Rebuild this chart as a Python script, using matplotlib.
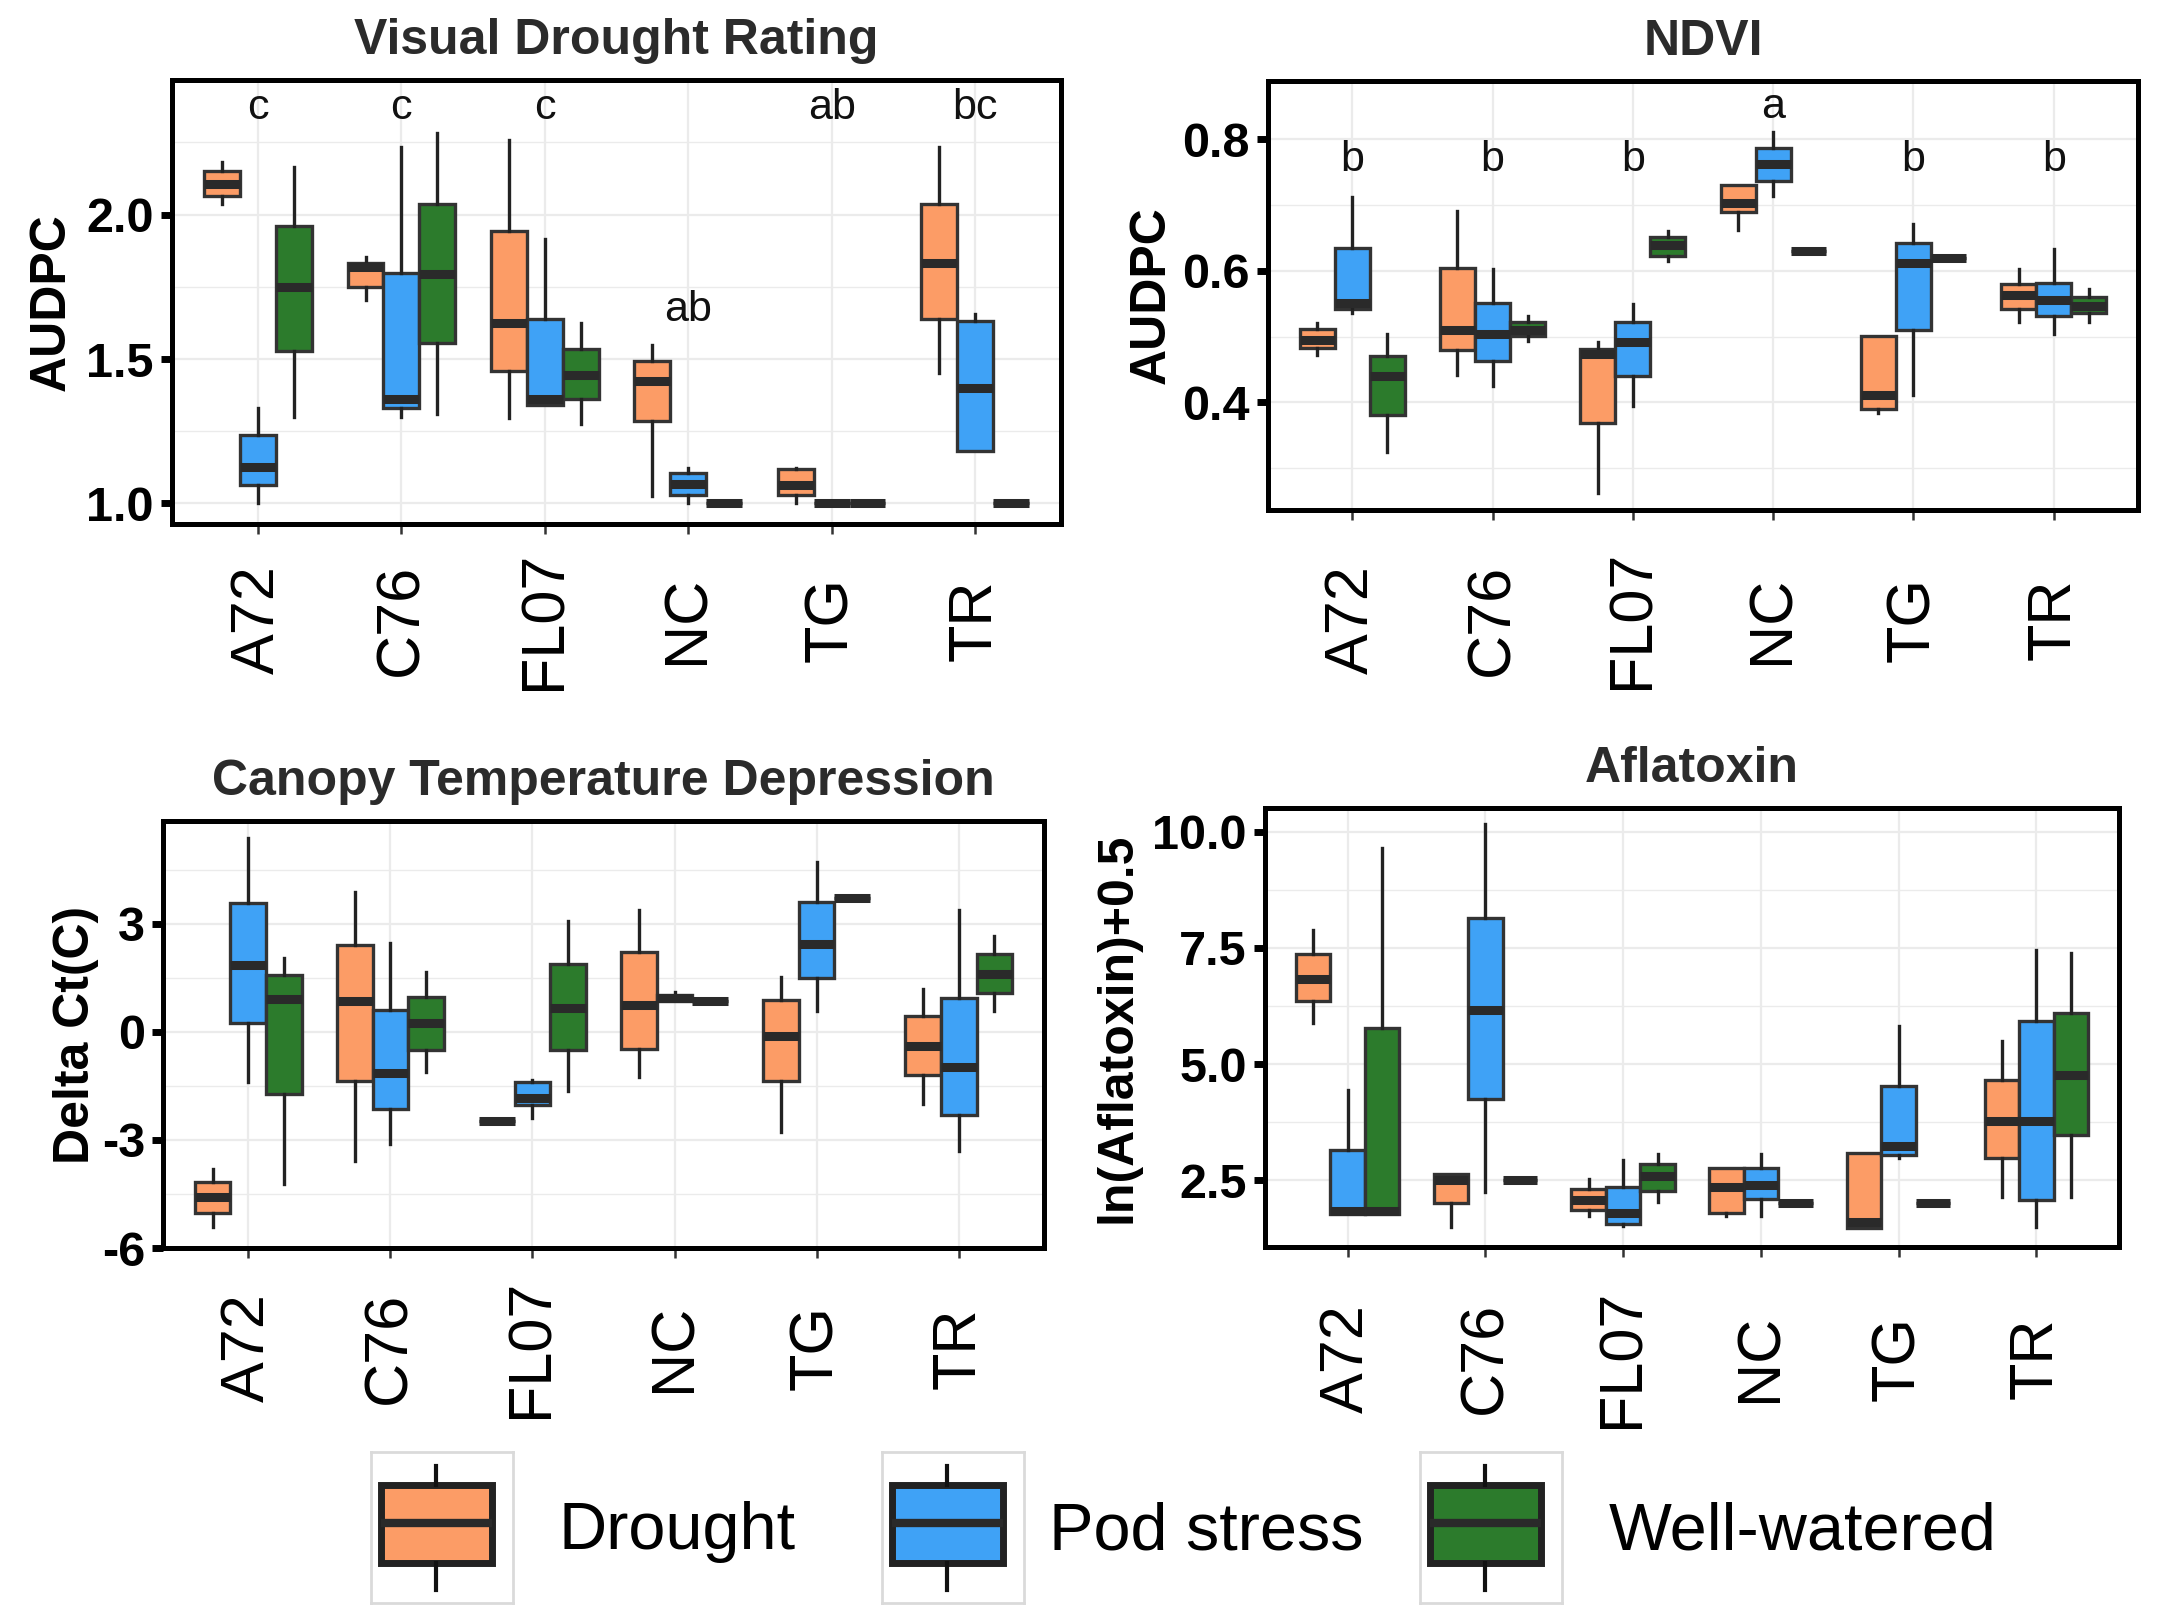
import numpy as np
import matplotlib
matplotlib.use('Agg')
import matplotlib.pyplot as plt

plt.rcParams['font.family'] = ['Liberation Sans', 'DejaVu Sans']

cultivars = ['A72', 'C76', 'FL07', 'NC', 'TG', 'TR']
treatments = ['Drought', 'Pod stress', 'Well-watered']
colours = ['#FC9C66', '#3FA2F6', '#2C7B2C']

# box stats per cultivar: (whislo, q1, med, q3, whishi)
vdr_drought = [(2.036, 2.065, 2.106, 2.152, 2.183), (1.705, 1.748, 1.818, 1.834, 1.854),
               (1.295, 1.457, 1.624, 1.943, 2.258), (1.026, 1.286, 1.425, 1.492, 1.547),
               (1.003, 1.03, 1.065, 1.12, 1.124), (1.45, 1.64, 1.834, 2.036, 2.233)]
vdr_pod = [(1.0, 1.065, 1.127, 1.236, 1.332), (1.30, 1.332, 1.36, 1.798, 2.233),
           (1.34, 1.34, 1.36, 1.637, 1.915), (1.003, 1.031, 1.068, 1.104, 1.123),
           (1.0, 1.0, 1.0, 1.0, 1.0), (1.18, 1.18, 1.40, 1.632, 1.655)]
vdr_ww = [(1.298, 1.528, 1.748, 1.96, 2.165), (1.31, 1.554, 1.795, 2.036, 2.284),
          (1.275, 1.36, 1.446, 1.534, 1.624), (1.0, 1.0, 1.0, 1.0, 1.0),
          (1.0, 1.0, 1.0, 1.0, 1.0), (1.0, 1.0, 1.0, 1.0, 1.0)]
vdr_letters = ['c', 'c', 'c', 'ab', 'ab', 'bc']
vdr_letter_y = [2.331, 2.331, 2.331, 1.632, 2.331, 2.331]

ndvi_drought = [(0.4716, 0.4831, 0.4947, 0.5118, 0.5206), (0.4422, 0.4797, 0.5104, 0.6037, 0.691),
                (0.2617, 0.3687, 0.4729, 0.481, 0.492), (0.6617, 0.6896, 0.7032, 0.73, 0.7305),
                (0.3843, 0.389, 0.4116, 0.5015, 0.5015), (0.522, 0.5424, 0.5629, 0.5806, 0.6024)]
ndvi_pod = [(0.5356, 0.5424, 0.5513, 0.6344, 0.7128), (0.4252, 0.4627, 0.5036, 0.5513, 0.6024),
            (0.3945, 0.4402, 0.492, 0.522, 0.55), (0.7135, 0.7373, 0.7625, 0.7877, 0.8116),
            (0.4116, 0.5104, 0.6126, 0.6419, 0.6719), (0.5036, 0.5308, 0.556, 0.582, 0.633)]
ndvi_ww = [(0.3243, 0.3809, 0.4402, 0.4709, 0.5036), (0.4933, 0.5015, 0.5104, 0.522, 0.5308),
           (0.6147, 0.6228, 0.6399, 0.6521, 0.6603), (0.63, 0.63, 0.63, 0.63, 0.63),
           (0.6194, 0.6194, 0.6194, 0.6194, 0.6194), (0.522, 0.5356, 0.5465, 0.5601, 0.5731)]
ndvi_letters = ['b', 'b', 'b', 'a', 'b', 'b']
ndvi_letter_y = [0.752, 0.752, 0.752, 0.833, 0.752, 0.752]

ctd_drought = [(-5.41, -5.04, -4.59, -4.17, -3.80), (-3.58, -1.37, 0.87, 2.41, 3.90),
               (-2.48, -2.48, -2.48, -2.48, -2.48), (-1.24, -0.47, 0.74, 2.23, 3.38),
               (-2.77, -1.37, -0.12, 0.89, 1.54), (-1.99, -1.19, -0.38, 0.43, 1.20)]
ctd_pod = [(-1.40, 0.25, 1.86, 3.59, 5.39), (-3.12, -2.15, -1.15, 0.62, 2.48),
           (-2.40, -2.02, -1.84, -1.40, -1.32), (0.87, 0.87, 0.93, 1.04, 1.10),
           (0.58, 1.49, 2.45, 3.60, 4.72), (-3.30, -2.31, -0.97, 0.93, 3.38)]
ctd_ww = [(-4.22, -1.71, 0.92, 1.58, 2.05), (-1.12, -0.50, 0.25, 0.96, 1.66),
          (-1.65, -0.50, 0.67, 1.89, 3.07), (0.87, 0.87, 0.87, 0.87, 0.87),
          (3.72, 3.72, 3.72, 3.72, 3.72), (0.58, 1.08, 1.61, 2.16, 2.66)]

afla_drought = [(5.88, 6.35, 6.84, 7.36, 7.88), (1.51, 2.01, 2.52, 2.64, 2.64),
                (1.73, 1.86, 2.08, 2.31, 2.54), (1.73, 1.80, 2.35, 2.76, 2.76),
                (1.48, 1.48, 1.60, 3.10, 3.10), (2.15, 2.98, 3.79, 4.66, 5.49)]
afla_pod = [(1.77, 1.77, 1.84, 3.15, 4.45), (2.25, 4.26, 6.17, 8.15, 10.16),
            (1.53, 1.57, 1.80, 2.35, 2.95), (1.73, 2.11, 2.40, 2.76, 3.08),
            (2.98, 3.05, 3.24, 4.53, 5.82), (1.51, 2.08, 3.79, 5.92, 7.46)]
afla_ww = [(1.77, 1.77, 1.84, 5.77, 9.66), (2.5, 2.5, 2.5, 2.5, 2.5),
           (2.04, 2.28, 2.60, 2.86, 3.08), (2.02, 2.02, 2.02, 2.02, 2.02),
           (2.02, 2.02, 2.02, 2.02, 2.02), (2.15, 3.47, 4.76, 6.11, 7.39)]

W, H = 2157, 1613
fig = plt.figure(figsize=(W / 100, H / 100), dpi=100)


def to_stats(data):
    return [dict(whislo=s[0], q1=s[1], med=s[2], q3=s[3], whishi=s[4], fliers=[]) for s in data]


def panel(rect_px, series, title, ylabel, ylim, yticks, ylabels, yminor, xpad, ylab_x,
          letters=None, letter_y=None):
    l, t, r, b = rect_px
    ax = fig.add_axes([l / W, 1 - b / H, (r - l) / W, (b - t) / H])
    for k, data in enumerate(series):
        pos = np.arange(len(cultivars)) + (k - 1) * 0.25
        ax.bxp(to_stats(data), positions=pos, widths=0.25, patch_artist=True,
               showcaps=False, showfliers=False, manage_ticks=False,
               boxprops=dict(facecolor=colours[k], edgecolor='#333333', linewidth=2.4),
               medianprops=dict(color='#2a2a2a', linewidth=6.5, solid_capstyle='butt'),
               whiskerprops=dict(color='#222222', linewidth=2.4))
    if letters is not None:
        for i, (lt, ly) in enumerate(zip(letters, letter_y)):
            ax.text(i, ly, lt, fontsize=31, ha='center', va='baseline', color='#111111')
    ax.set_xlim(-0.6, 5.6)
    ax.set_ylim(*ylim)
    ax.set_xticks(range(len(cultivars)))
    ax.set_xticklabels(cultivars, rotation=90, fontsize=44, ha='center', va='center')
    ax.set_yticks(yticks)
    ax.set_yticklabels(ylabels, fontsize=35, fontweight='bold')
    ax.set_yticks(yminor, minor=True)
    ax.tick_params(axis='y', which='major', length=8, width=5, color='black', pad=5)
    ax.tick_params(axis='y', which='minor', length=0)
    ax.tick_params(axis='x', length=7, width=1.8, color='#333333', pad=xpad)
    ax.set_axisbelow(True)
    ax.grid(which='major', color='#EBEBEB', linewidth=1.6)
    ax.grid(which='minor', axis='y', color='#EBEBEB', linewidth=1.0)
    for s in ax.spines.values():
        s.set_linewidth(3.6)
        s.set_color('black')
    ax.set_title(title, fontsize=36, fontweight='bold', color='#2b2b2b', pad=19)
    ax.set_ylabel(ylabel, fontsize=36, fontweight='bold', va='baseline')
    ax.yaxis.set_label_coords(ylab_x, 0.5)
    return ax


panel((172, 80, 1061, 524), [vdr_drought, vdr_pod, vdr_ww], 'Visual Drought Rating', 'AUDPC',
      (0.929, 2.466), [1.0, 1.5, 2.0], ['1.0', '1.5', '2.0'], [1.25, 1.75, 2.25],
      62, -0.1204, vdr_letters, vdr_letter_y)
panel((1268, 81, 2138, 510), [ndvi_drought, ndvi_pod, ndvi_ww], 'NDVI', 'AUDPC',
      (0.236, 0.889), [0.4, 0.6, 0.8], ['0.4', '0.6', '0.8'], [0.3, 0.5, 0.7],
      72, -0.1184, ndvi_letters, ndvi_letter_y)
panel((163, 821, 1044, 1248), [ctd_drought, ctd_pod, ctd_ww], 'Canopy Temperature Depression',
      'Delta Ct(C)', (-6.0, 5.86), [-6, -3, 0, 3], ['-6', '-3', '0', '3'], [-4.5, -1.5, 1.5, 4.5],
      65, -0.084)
panel((1265, 808, 2119, 1247), [afla_drought, afla_pod, afla_ww], 'Aflatoxin', 'ln(Aflatoxin)+0.5',
      (1.07, 10.51), [2.5, 5.0, 7.5, 10.0], ['2.5', '5.0', '7.5', '10.0'], [3.75, 6.25, 8.75],
      73, -0.158)

# legend drawn as small box-plot keys
key_x = [371, 882, 1420]
text_x = [559, 1049, 1609]
for k in range(3):
    kax = fig.add_axes([key_x[k] / W, 1 - 1603 / H, 142 / W, 151 / H])
    kax.bxp([dict(whislo=0.086, q1=0.265, med=0.53, q3=0.78, whishi=0.907, fliers=[])],
            positions=[0.46], widths=0.785, patch_artist=True, showcaps=False,
            showfliers=False, manage_ticks=False,
            boxprops=dict(facecolor=colours[k], edgecolor='#222222', linewidth=5),
            medianprops=dict(color='#2a2a2a', linewidth=6, solid_capstyle='butt'),
            whiskerprops=dict(color='#111111', linewidth=3))
    kax.set_xlim(0, 1)
    kax.set_ylim(0, 1)
    kax.set_xticks([])
    kax.set_yticks([])
    for s in kax.spines.values():
        s.set_color('#DADADA')
        s.set_linewidth(2)
    fig.text(text_x[k] / W, 1 - 1532 / H, treatments[k], fontsize=48, va='center', ha='left')

fig.savefig('out.png', dpi=100)
